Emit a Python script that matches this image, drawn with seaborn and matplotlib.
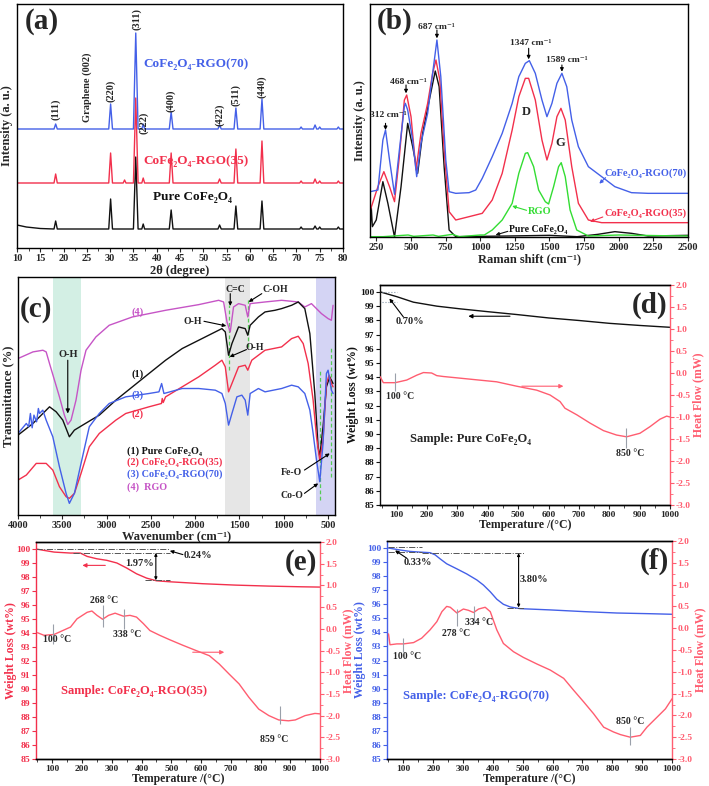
import matplotlib
matplotlib.use("Agg")
import matplotlib.pyplot as plt
import seaborn as sns
from matplotlib.ticker import MultipleLocator

sns.set_theme(style="ticks")
plt.rcParams['font.family'] = ['Liberation Serif', 'DejaVu Serif']
plt.rcParams['font.weight'] = 'bold'
plt.rcParams['axes.labelweight'] = 'bold'

BLUE = "#4460e8"
RED = "#f2304c"
PINK = "#ff5d70"
GREEN = "#33dd33"
MAG = "#c655c6"
BLK = "#111111"

# ---------------- (a) XRD ----------------
xrd_peaks = [18.3, 30.1, 33.1, 35.5, 37.1, 43.1, 53.5, 57.0, 62.6, 71.0, 74.0, 75.0, 79.0]
xrd_halfw = [0.35, 0.4, 0.3, 0.5, 0.3, 0.4, 0.35, 0.4, 0.4, 0.3, 0.35, 0.3, 0.3]
xrd_h_pure = [8, 30, 0, 72, 5, 19, 4, 23, 28, 2, 3, 2, 2]
xrd_h_35 = [9, 30, 3, 85, 5, 30, 4, 34, 42, 2, 4, 2, 2]
xrd_h_70 = [5, 25, 0, 96, 5, 17, 4, 21, 30, 2, 4, 2, 2]
xrd_base = {"pure": 19, "35": 65, "70": 119}
xrd_start_pure_x = [10, 12, 15]
xrd_start_pure_y = [23, 21, 19.5]
hkl_labels = ["(111)", "Graphene (002)", "(220)", "(311)", "(222)", "(400)", "(422)", "(511)", "(440)"]
hkl_x = [18.3, 25.0, 30.1, 35.6, 37.2, 43.1, 53.6, 57.0, 62.6]
hkl_y = [139, 161, 157, 229, 125, 147, 133, 153, 161]

# ---------------- (b) Raman ----------------
ram70_x = [207, 262, 298, 317, 346, 382, 417, 453, 460, 477, 513, 542, 573, 621, 657, 688, 716, 752, 776, 824, 920, 968, 1015, 1087, 1159, 1231, 1279, 1326, 1355, 1398, 1446, 1482, 1518, 1554, 1590, 1625, 1661, 1709, 1781, 1877, 1972, 2092, 2211, 2500]
ram70_y = [136, 141, 291, 321, 231, 128, 261, 391, 401, 381, 291, 181, 281, 371, 491, 591, 481, 231, 136, 131, 133, 141, 176, 241, 311, 401, 481, 521, 529, 491, 411, 361, 401, 461, 491, 451, 351, 271, 211, 181, 151, 133, 131, 131]
ram35_x = [207, 262, 305, 346, 382, 417, 453, 470, 501, 537, 573, 621, 657, 681, 709, 740, 776, 824, 920, 1015, 1087, 1159, 1231, 1279, 1326, 1350, 1398, 1446, 1482, 1518, 1554, 1583, 1614, 1661, 1709, 1781, 1877, 2500]
ram35_y = [80, 151, 196, 151, 106, 241, 411, 426, 361, 201, 311, 401, 491, 531, 471, 261, 76, 51, 61, 71, 111, 191, 321, 421, 476, 476, 411, 291, 231, 281, 361, 386, 351, 211, 101, 51, 43, 43]
ramG_x = [207, 300, 480, 520, 660, 700, 800, 850, 1000, 1030, 1087, 1159, 1231, 1279, 1326, 1343, 1386, 1422, 1470, 1494, 1530, 1566, 1585, 1614, 1649, 1697, 1781, 2000, 2300, 2500]
ramG_y = [1, 1, 6, 2, 6, 2, 8, 1, 6, 6, 21, 51, 101, 191, 251, 253, 211, 141, 106, 99, 151, 211, 223, 181, 81, 21, 3, 6, 4, 3]
ramP_x = [207, 214, 222, 250, 298, 334, 382, 429, 477, 513, 549, 585, 633, 676, 704, 740, 776, 824, 1200, 1500, 1700, 1850, 1972, 2092, 2211, 2500]
ramP_y = [31, 91, 31, 51, 166, 101, 0, 151, 341, 271, 191, 311, 411, 498, 451, 211, 21, 1, 3, 5, 1, 8, 16, 11, 3, 5]

# ---------------- (c) FTIR ----------------
ftM_x = [4000, 3831, 3719, 3682, 3644, 3588, 3532, 3476, 3438, 3401, 3345, 3288, 3232, 3120, 2970, 2708, 2333, 1959, 1734, 1678, 1640, 1603, 1566, 1509, 1434, 1405, 1378, 1210, 1023, 835, 761, 686, 573, 498, 461, 442]
ftM_y = [470, 490, 495, 490, 455, 405, 355, 300, 272, 285, 345, 435, 495, 535, 570, 595, 615, 632, 645, 640, 580, 550, 625, 635, 630, 595, 635, 640, 645, 640, 625, 635, 605, 590, 585, 630]
ftP_x = [4000, 3831, 3719, 3644, 3569, 3494, 3420, 3363, 3270, 3082, 2895, 2708, 2521, 2333, 2146, 1959, 1772, 1697, 1659, 1622, 1584, 1509, 1434, 1405, 1378, 1285, 1210, 1098, 1023, 910, 835, 761, 704, 648, 611, 592, 555, 517, 480, 442]
ftP_y = [240, 275, 305, 325, 310, 285, 235, 255, 270, 300, 345, 385, 425, 465, 500, 525, 550, 560, 550, 480, 515, 565, 560, 540, 570, 595, 610, 615, 620, 630, 640, 620, 545, 365, 205, 175, 265, 385, 415, 395]
ft35_x = [4000, 3906, 3794, 3682, 3607, 3532, 3457, 3420, 3363, 3288, 3195, 3082, 2895, 2783, 2521, 2380, 2371, 2360, 2333, 2146, 1959, 1772, 1697, 1659, 1622, 1584, 1509, 1434, 1405, 1360, 1210, 1023, 910, 835, 779, 723, 667, 629, 592, 555, 517, 487, 461, 442]
ft35_y = [105, 120, 155, 155, 135, 85, 55, 50, 65, 125, 205, 245, 285, 305, 325, 335, 350, 338, 355, 385, 415, 450, 465, 445, 370, 395, 445, 450, 435, 465, 495, 505, 530, 537, 515, 455, 345, 235, 165, 225, 395, 420, 395, 385]
ft70_x = [4000, 3906, 3880, 3860, 3840, 3820, 3790, 3770, 3757, 3720, 3682, 3607, 3532, 3457, 3420, 3363, 3288, 3195, 3082, 2970, 2783, 2521, 2408, 2378, 2352, 2146, 1959, 1772, 1697, 1659, 1622, 1584, 1528, 1472, 1434, 1405, 1378, 1285, 1210, 1023, 910, 835, 761, 704, 667, 629, 592, 555, 517, 498, 461, 442]
ft70_y = [245, 275, 265, 305, 262, 300, 280, 320, 305, 315, 285, 235, 145, 65, 35, 65, 155, 265, 305, 335, 355, 365, 370, 395, 365, 380, 380, 375, 365, 335, 270, 305, 355, 360, 345, 300, 365, 380, 370, 380, 390, 385, 365, 315, 245, 165, 100, 215, 425, 435, 375, 365]
ftir_marks = [1622, 1404, 592, 461]
ftir_mark_lo = [435, 505, 45, 115]
ftir_mark_hi = [630, 645, 440, 505]

# ---------------- (d) Pure CoFe2O4 ----------------
tgaD_T = [48, 100, 155, 232, 309, 400, 495, 600, 700, 800, 900, 1000]
tgaD_w = [100.0, 99.68, 99.29, 99.01, 98.82, 98.62, 98.42, 98.18, 98.0, 97.8, 97.65, 97.52]
dscD_T = [45, 56, 95, 133, 166, 188, 215, 232, 254, 298, 385, 429, 495, 561, 605, 638, 654, 693, 737, 781, 824, 857, 901, 934, 967, 989, 1000]
dscD_h = [-0.08, -0.22, -0.22, -0.16, -0.05, 0.01, 0.0, -0.06, -0.08, -0.11, -0.17, -0.2, -0.3, -0.39, -0.5, -0.65, -0.8, -0.95, -1.14, -1.31, -1.41, -1.45, -1.37, -1.22, -1.05, -0.98, -1.0]

# ---------------- (e) CoFe2O4-RGO(35) ----------------
tgaE_T = [45, 72, 106, 161, 194, 217, 250, 283, 317, 350, 383, 417, 450, 494, 606, 717, 828, 939, 1000]
tgaE_w = [100.0, 99.9, 99.78, 99.71, 99.71, 99.47, 99.3, 99.19, 99.0, 98.64, 98.23, 97.92, 97.73, 97.66, 97.52, 97.42, 97.35, 97.3, 97.28]
dscE_T = [50, 72, 106, 161, 183, 217, 233, 250, 269, 289, 311, 339, 361, 383, 406, 428, 461, 494, 539, 583, 628, 661, 694, 728, 761, 794, 828, 861, 894, 917, 950, 983, 1000]
dscE_h = [-0.09, -0.15, -0.13, 0.04, 0.23, 0.38, 0.41, 0.31, 0.22, 0.31, 0.36, 0.29, 0.31, 0.27, 0.12, -0.04, -0.15, -0.25, -0.38, -0.5, -0.62, -0.81, -1.04, -1.27, -1.58, -1.85, -2.0, -2.1, -2.12, -2.1, -2.0, -1.95, -1.96]

# ---------------- (f) CoFe2O4-RGO(70) ----------------
tgaF_T = [50, 89, 122, 156, 189, 206, 223, 245, 279, 312, 346, 368, 391, 413, 435, 458, 491, 592, 704, 815, 927, 1000]
tgaF_w = [100.0, 99.86, 99.76, 99.71, 99.67, 99.52, 99.23, 98.88, 98.52, 98.16, 97.73, 97.37, 96.89, 96.36, 96.0, 95.81, 95.69, 95.6, 95.48, 95.38, 95.33, 95.29]
dscF_T = [50, 55, 78, 100, 134, 161, 189, 212, 229, 245, 257, 279, 301, 318, 335, 352, 374, 391, 413, 435, 469, 502, 547, 592, 637, 670, 704, 737, 771, 804, 827, 860, 894, 916, 950, 978, 1000]
dscF_h = [-0.13, -0.38, -0.36, -0.36, -0.33, -0.23, -0.04, 0.15, 0.38, 0.5, 0.48, 0.35, 0.44, 0.41, 0.36, 0.44, 0.48, 0.38, -0.04, -0.35, -0.54, -0.67, -0.82, -0.96, -1.15, -1.42, -1.69, -1.96, -2.27, -2.38, -2.44, -2.5, -2.46, -2.27, -2.04, -1.85, -1.62]

W, H = 709, 786
fig = plt.figure(figsize=(W / 100, H / 100), dpi=100)


def px_axes(l, t, r, b):
    return fig.add_axes([l / W, 1 - b / H, (r - l) / W, (b - t) / H])


def style(ax, ls=7.5):
    ax.tick_params(which='major', direction='out', length=3, width=0.8, labelsize=ls, pad=1.5)
    ax.tick_params(which='minor', direction='out', length=1.8, width=0.6)
    for s in ax.spines.values():
        s.set_linewidth(1.0)
        s.set_color('black')


def line(ax, x, y, color, lw=1.0):
    sns.lineplot(x=x, y=y, ax=ax, color=color, linewidth=lw, estimator=None, sort=False, legend=False)


def arrow(ax, xy, xytext, color='black', lw=0.8, style='-|>', ms=6):
    ax.annotate("", xy=xy, xytext=xytext,
                arrowprops=dict(arrowstyle=style, color=color, lw=lw, mutation_scale=ms, shrinkA=0, shrinkB=0))


def xrd_trace(base, heights, sx=None, sy=None):
    xs = list(sx) if sx else [10]
    ys = list(sy) if sy else [base]
    for p, h, w in zip(xrd_peaks, heights, xrd_halfw):
        if h == 0:
            continue
        xs += [p - w, p, p + w]
        ys += [base, base + h, base]
    xs.append(80)
    ys.append(base)
    return xs, ys


# ===== (a) =====
axA = px_axes(17, 4, 343, 248)
style(axA)
x, y = xrd_trace(xrd_base["pure"], xrd_h_pure, xrd_start_pure_x, xrd_start_pure_y)
line(axA, x, y, BLK)
x, y = xrd_trace(xrd_base["35"], xrd_h_35)
line(axA, x, y, RED)
x, y = xrd_trace(xrd_base["70"], xrd_h_70)
line(axA, x, y, BLUE)
axA.set_xlim(10, 80)
axA.set_ylim(0, 244)
axA.set_yticks([])
axA.xaxis.set_major_locator(MultipleLocator(5))
axA.xaxis.set_minor_locator(MultipleLocator(2.5))
axA.set_xlabel("2θ (degree)", fontsize=9, labelpad=1)
axA.set_ylabel("Intensity (a. u.)", fontsize=9, labelpad=3)
axA.text(0.025, 0.985, "(a)", transform=axA.transAxes, fontsize=21, va='top', ha='left')
axA.text(37.05, 184, "CoFe₂O₄-RGO(70)", color=BLUE, fontsize=9.5, va='center')
axA.text(37.05, 87, "CoFe₂O₄-RGO(35)", color=RED, fontsize=9.5, va='center')
axA.text(39.2, 51, "Pure CoFe₂O₄", color=BLK, fontsize=9.5, va='center')
for lab, hx, hy in zip(hkl_labels, hkl_x, hkl_y):
    axA.text(hx, hy, lab, rotation=90, ha='center', va='center', fontsize=7.5)

# ===== (b) =====
axB = px_axes(370, 4, 688, 237)
style(axB)
line(axB, ramP_x, ramP_y, BLK)
line(axB, ramG_x, ramG_y, GREEN)
line(axB, ram35_x, ram35_y, RED)
line(axB, ram70_x, ram70_y, BLUE)
axB.set_xlim(205, 2500)
axB.set_ylim(0, 699)
axB.set_yticks([])
axB.set_xticks(list(range(250, 2501, 250)))
axB.set_xlabel("Raman shift (cm⁻¹)", fontsize=9, labelpad=1)
axB.set_ylabel("Intensity (a. u.)", fontsize=9, labelpad=3)
axB.text(0.02, 0.985, "(b)", transform=axB.transAxes, fontsize=21, va='top', ha='left')
ram_ann = [("312 cm⁻¹", 335, 366, 317, 341, 321), ("468 cm⁻¹", 484, 466, 465, 456, 431),
           ("687 cm⁻¹", 681, 631, 688, 621, 596), ("1347 cm⁻¹", 1362, 581, 1350, 566, 533),
           ("1589 cm⁻¹", 1626, 531, 1590, 516, 496)]
for t, tx, ty, axx, y0, y1 in ram_ann:
    axB.text(tx, ty, t, fontsize=6.8, ha='center', va='center')
    arrow(axB, (axx, y1), (axx, y0), ms=5)
axB.text(1334, 374, "D", fontsize=9, ha='center', va='center')
axB.text(1580, 283, "G", fontsize=9, ha='center', va='center')
axB.text(1900, 191, "CoFe₂O₄-RGO(70)", color=BLUE, fontsize=7.5, va='center')
arrow(axB, (1860, 160), (1905, 178), color=BLUE, ms=5)
axB.text(1900, 72, "CoFe₂O₄-RGO(35)", color=RED, fontsize=7.5, va='center')
arrow(axB, (1793, 46), (1885, 60), color=RED, ms=5)
axB.text(1345, 78, "RGO", color=GREEN, fontsize=7.5, va='center')
arrow(axB, (1231, 93), (1335, 80), color=GREEN, ms=5)
axB.text(1210, 22, "Pure CoFe₂O₄", color=BLK, fontsize=7, va='center')
arrow(axB, (1111, 6), (1200, 17), color=BLK, ms=5)

# ===== (c) =====
axC = px_axes(18, 277, 335, 515)
style(axC)
axC.axvspan(3607, 3288, color="#d3efe4", zorder=0, lw=0)
axC.axvspan(1659, 1378, color="#e6e6e6", zorder=0, lw=0)
axC.axvspan(629, 420, color="#d4d4f4", zorder=0, lw=0)
for mx, lo, hi in zip(ftir_marks, ftir_mark_lo, ftir_mark_hi):
    axC.vlines(mx, lo, hi, colors="#55cc55", linestyles=(0, (3, 2)), lw=0.9, zorder=1)
line(axC, ftM_x, ftM_y, MAG)
line(axC, ftP_x, ftP_y, BLK)
line(axC, ft35_x, ft35_y, RED)
line(axC, ft70_x, ft70_y, BLUE)
axC.set_xlim(4000, 420)
axC.set_ylim(0, 715)
axC.set_yticks([])
axC.set_xticks([4000, 3500, 3000, 2500, 2000, 1500, 1000, 500])
axC.xaxis.set_minor_locator(MultipleLocator(250))
axC.set_xlabel("Wavenumber (cm⁻¹)", fontsize=9, labelpad=0)
axC.set_ylabel("Transmittance (%)", fontsize=9, labelpad=3)
axC.text(0.005, 0.92, "(c)", transform=axC.transAxes, fontsize=21, va='top', ha='left')
axC.text(2652, 610, "(4)", color=MAG, fontsize=7.5, ha='center', va='center')
axC.text(2652, 423, "(1)", color=BLK, fontsize=7.5, ha='center', va='center')
axC.text(2652, 360, "(3)", color=BLUE, fontsize=7.5, ha='center', va='center')
axC.text(2652, 302, "(2)", color=RED, fontsize=7.5, ha='center', va='center')
axC.text(3438, 482, "O-H", fontsize=7.5, ha='center', va='center')
arrow(axC, (3438, 305), (3438, 465), lw=0.8, ms=6)
leg_items = [("(1) Pure CoFe₂O₄", BLK, 192), ("(2) CoFe₂O₄-RGO(35)", RED, 158),
             ("(3) CoFe₂O₄-RGO(70)", BLUE, 122), ("(4)  RGO", MAG, 85)]
for t, c, yy in leg_items:
    axC.text(2764, yy, t, color=c, fontsize=7.3, va='center')
axC.text(1547, 677, "C=C", fontsize=7, ha='center', va='center')
arrow(axC, (1603, 628), (1603, 665), ms=5)
axC.text(1097, 677, "C-OH", fontsize=7, ha='center', va='center')
arrow(axC, (1395, 640), (1247, 665), ms=5)
axC.text(2030, 582, "O-H", fontsize=7, ha='center', va='center')
arrow(axC, (1648, 568), (1900, 582), ms=5)
axC.text(1322, 503, "O-H", fontsize=7, ha='center', va='center')
arrow(axC, (1610, 475), (1420, 497), ms=5)
axC.text(910, 128, "Fe-O", fontsize=7, ha='center', va='center')
arrow(axC, (479, 185), (765, 135), ms=5)
axC.text(910, 60, "Co-O", fontsize=7, ha='center', va='center')
arrow(axC, (610, 95), (765, 65), ms=5)


# ===== TGA/DSC helper =====
def tga_axes(l, t, r, b, lcolor):
    ax = px_axes(l, t, r, b)
    style(ax, 6.8)
    tw = ax.twinx()
    style(tw, 6.8)
    ax.tick_params(pad=1)
    tw.tick_params(pad=1)
    ax.set_xlim(45, 1000)
    ax.set_ylim(85, 100.5)
    ax.set_yticks(list(range(85, 101)))
    ax.xaxis.set_major_locator(MultipleLocator(100))
    ax.xaxis.set_minor_locator(MultipleLocator(50))
    tw.set_ylim(-3.0, 2.0)
    tw.set_yticks([2.0, 1.5, 1.0, 0.5, 0.0, -0.5, -1.0, -1.5, -2.0, -2.5, -3.0])
    tw.set_yticklabels(["2.0", "1.5", "1.0", "0.5", "0.0", "-0.5", "-1.0", "-1.5", "-2.0", "-2.5", "-3.0"])
    tw.yaxis.set_minor_locator(MultipleLocator(0.25))
    ax.spines['left'].set_color(lcolor)
    tw.spines['left'].set_visible(False)
    ax.spines['right'].set_visible(False)
    tw.spines['right'].set_color(PINK)
    tw.tick_params(axis='y', which='both', colors=PINK, labelcolor=PINK)
    ax.tick_params(axis='y', which='both', colors=lcolor, labelcolor=lcolor)
    ax.set_xlabel("Temperature /(°C)", fontsize=8.5, labelpad=0)
    ax.set_ylabel("Weight Loss (wt%)", fontsize=8.5, color=lcolor, labelpad=1)
    tw.set_ylabel("Heat Flow (mW)", fontsize=8.5, color=PINK, labelpad=1)
    return ax, tw


def vmark(tw, x, lo, hi):
    tw.vlines(x, lo, hi, colors="#9aa0aa", lw=0.8)


# ===== (d) =====
axD, twD = tga_axes(380, 285, 670, 505, BLK)
line(axD, tgaD_T, tgaD_w, BLK)
line(twD, dscD_T, dscD_h, PINK)
axD.set_xlim(45, 1000); axD.set_ylim(85, 100.5); twD.set_ylim(-3, 2)
axD.text(0.99, 0.97, "(d)", transform=axD.transAxes, fontsize=21, va='top', ha='right')
axD.hlines([100.0, 99.3], 50, 100, colors="#8899aa", linestyles=':', lw=0.8)
arrow(axD, (76, 99.55), (122, 98.25), ms=5)
axD.text(143, 97.95, "0.70%", fontsize=7.5, ha='center', va='center')
arrow(axD, (336, 98.3), (473, 98.3), ms=6)
arrow(twD, (649, -0.3), (512, -0.3), color=PINK, ms=6)
vmark(twD, 95, -0.0, -0.42)
twD.text(110, -0.54, "100 °C", fontsize=7, ha='center', va='center')
vmark(twD, 855, -1.25, -1.7)
twD.text(868, -1.83, "850 °C", fontsize=7, ha='center', va='center')
twD.text(145, -1.5, "Sample: Pure CoFe₂O₄", fontsize=9, va='center')

# ===== (e) =====
axE, twE = tga_axes(36, 542, 320, 759, RED)
line(axE, tgaE_T, tgaE_w, RED)
line(twE, dscE_T, dscE_h, PINK)
axE.set_xlim(45, 1000); axE.set_ylim(85, 100.5); twE.set_ylim(-3, 2)
axE.yaxis.set_label_coords(-0.066, 0.5)
axE.text(0.99, 0.97, "(e)", transform=axE.transAxes, fontsize=21, va='top', ha='right')
axE.hlines(100.0, 46, 495, colors="#555555", linestyles='-.', lw=0.7)
axE.hlines(99.72, 168, 495, colors="#555555", linestyles='-.', lw=0.7)
axE.hlines(97.77, 412, 495, colors="#555555", linestyles='-.', lw=0.7)
arrow(axE, (495, 99.87), (539, 99.6), ms=5)
axE.text(589, 99.5, "0.24%", fontsize=7.5, ha='center', va='center')
arrow(axE, (448, 99.72), (448, 97.77), style='<|-|>', ms=4)
axE.text(393, 98.97, "1.97%", fontsize=7.5, ha='center', va='center')
arrow(axE, (201, 98.83), (278, 98.83), color=RED, ms=6)
arrow(twE, (678, -0.54), (572, -0.54), color=PINK, ms=6)
vmark(twE, 102, 0.12, -0.35)
twE.text(117, -0.25, "100 °C", fontsize=7, ha='center', va='center')
vmark(twE, 269, 0.54, 0.05)
twE.text(275, 0.65, "268 °C", fontsize=7, ha='center', va='center')
vmark(twE, 341, 0.46, 0.0)
twE.text(353, -0.12, "338 °C", fontsize=7, ha='center', va='center')
vmark(twE, 866, -1.79, -2.19)
twE.text(847, -2.54, "859 °C", fontsize=7, ha='center', va='center')
twE.text(130, -1.44, "Sample: CoFe₂O₄-RGO(35)", fontsize=9, color=RED, va='center')

# ===== (f) =====
axF, twF = tga_axes(387, 541, 672, 759, BLUE)
line(axF, tgaF_T, tgaF_w, BLUE)
line(twF, dscF_T, dscF_h, PINK)
axF.set_xlim(45, 1000); axF.set_ylim(85, 100.5); twF.set_ylim(-3, 2)
axF.text(0.99, 0.97, "(f)", transform=axF.transAxes, fontsize=21, va='top', ha='right')
axF.hlines(100.05, 50, 161, colors="#555555", linestyles='-.', lw=0.7)
axF.hlines(99.72, 50, 161, colors="#555555", linestyles='-.', lw=0.7)
axF.hlines(99.64, 161, 508, colors="#555555", linestyles='-.', lw=0.7)
axF.hlines(95.77, 447, 508, colors="#555555", linestyles='-.', lw=0.7)
arrow(axF, (72, 99.83), (111, 99.28), ms=5)
axF.text(150, 99.0, "0.33%", fontsize=7.5, ha='center', va='center')
arrow(axF, (486, 99.64), (486, 95.77), style='<|-|>', ms=4)
axF.text(536, 97.73, "3.80%", fontsize=7.5, ha='center', va='center')
vmark(twF, 100, -0.23, -0.54)
twF.text(113, -0.65, "100 °C", fontsize=7, ha='center', va='center')
vmark(twF, 279, 0.44, 0.05)
twF.text(278, -0.13, "278 °C", fontsize=7, ha='center', va='center')
vmark(twF, 335, 0.52, 0.12)
twF.text(354, 0.12, "334 °C", fontsize=7, ha='center', va='center')
vmark(twF, 858, -2.27, -2.69)
twF.text(860, -2.15, "850 °C", fontsize=7, ha='center', va='center')
twF.text(100, -1.55, "Sample: CoFe₂O₄-RGO(70)", fontsize=9, color=BLUE, va='center')

fig.savefig("out.png", dpi=100)
